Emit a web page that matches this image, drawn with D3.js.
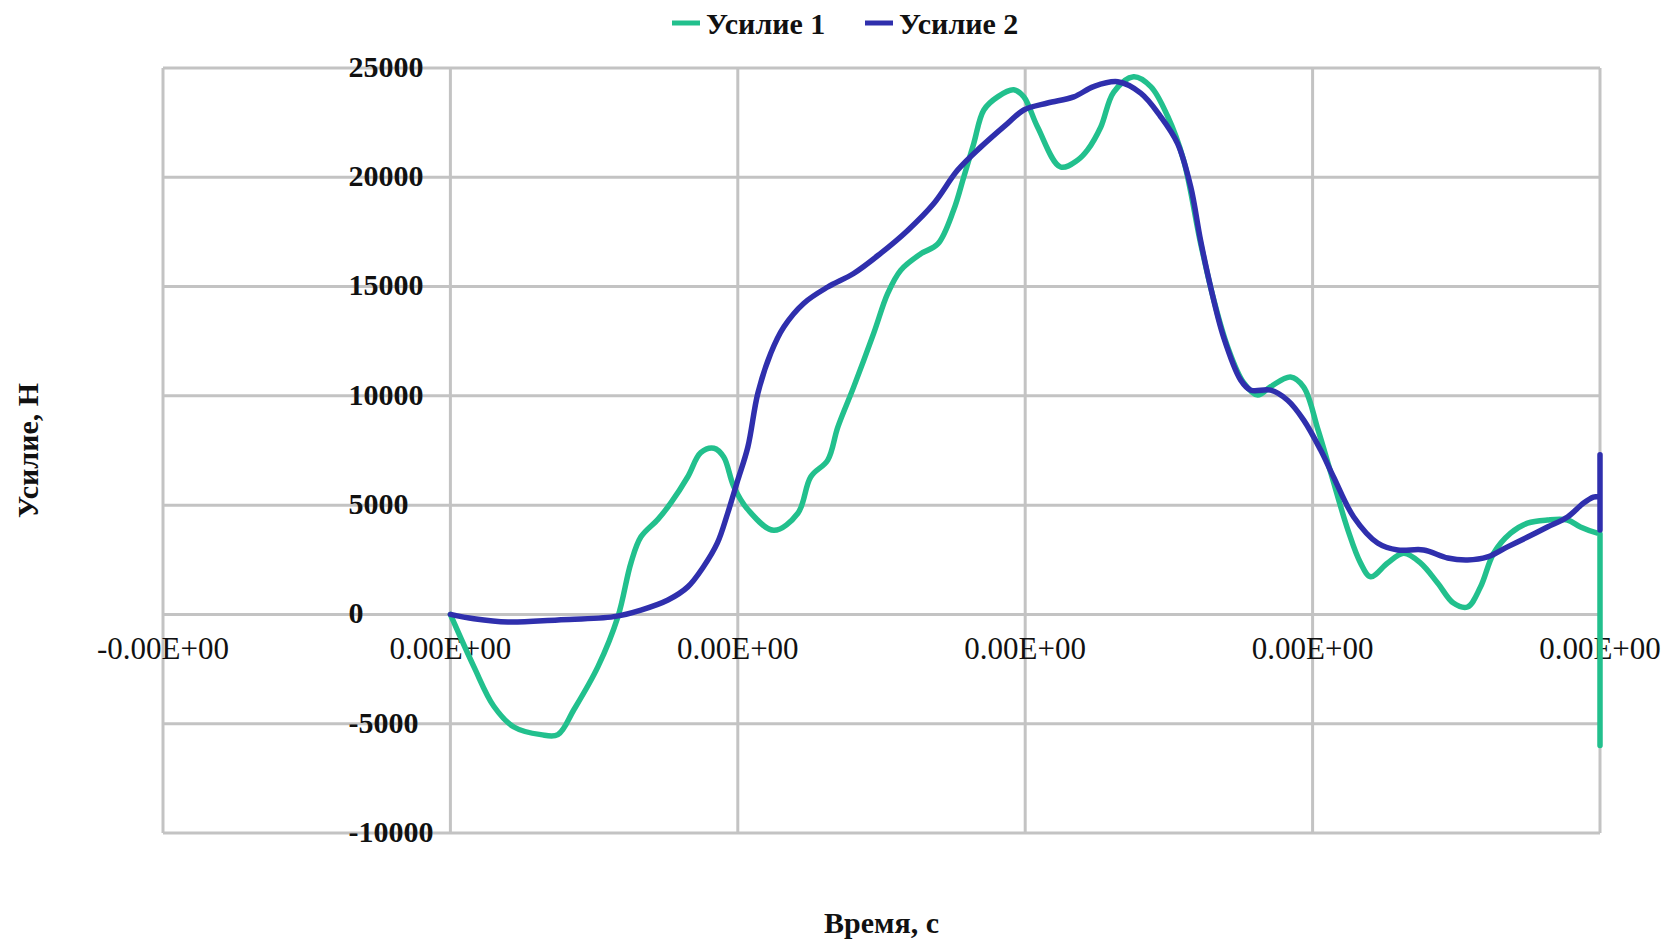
<!DOCTYPE html>
<html>
<head>
<meta charset="utf-8">
<script src="https://cdn.jsdelivr.net/npm/d3@7"></script>
<style>
  body { margin: 0; background: #fff; }
  text { font-family: "Liberation Serif", "Times New Roman", serif; }
</style>
</head>
<body>
<div class="chart"></div>
<script>
// series names
const seriesNames = ['Усилие 1', 'Усилие 2'];

// time (in gridline units) and force values
const time1 = [0, 0.082, 0.151, 0.221, 0.315, 0.374, 0.430, 0.513, 0.583, 0.628, 0.663, 0.722, 0.767, 0.826, 0.871, 0.917, 0.951, 0.986, 1.035, 1.125, 1.209, 1.254, 1.313, 1.348, 1.403, 1.473, 1.522, 1.567, 1.637, 1.696, 1.751, 1.786, 1.821, 1.856, 1.904, 1.960, 1.995, 2.043, 2.123, 2.183, 2.217, 2.263, 2.308, 2.377, 2.437, 2.496, 2.551, 2.610, 2.656, 2.704, 2.760, 2.809, 2.854, 2.923, 2.969, 3.019, 3.064, 3.123, 3.167, 3.202, 3.261, 3.317, 3.376, 3.435, 3.490, 3.539, 3.584, 3.630, 3.689, 3.748, 3.817, 3.887, 3.932, 3.991, 4.0, 4.0];
const force1 = [0, -2400, -4200, -5150, -5500, -5500, -4350, -2400, -100, 2350, 3550, 4350, 5100, 6300, 7400, 7600, 7200, 5850, 4800, 3850, 4630, 6300, 7060, 8570, 10400, 12870, 14700, 15750, 16500, 16950, 18500, 20000, 21550, 23080, 23680, 24000, 23680, 22300, 20470, 20790, 21250, 22300, 23900, 24600, 24150, 22780, 20790, 17000, 14400, 12250, 10600, 10040, 10420, 10860, 10400, 8440, 6450, 3860, 2350, 1720, 2350, 2800, 2350, 1440, 520, 340, 1250, 2800, 3720, 4180, 4320, 4320, 4000, 3720, 3700, -6000];

const time2 = [0, 0.082, 0.200, 0.374, 0.569, 0.663, 0.757, 0.826, 0.880, 0.929, 0.965, 1.000, 1.035, 1.070, 1.115, 1.160, 1.230, 1.313, 1.403, 1.497, 1.591, 1.682, 1.765, 1.845, 1.939, 1.995, 2.078, 2.169, 2.238, 2.322, 2.402, 2.471, 2.530, 2.576, 2.610, 2.645, 2.690, 2.750, 2.785, 2.854, 2.913, 2.969, 3.028, 3.073, 3.143, 3.226, 3.296, 3.386, 3.470, 3.539, 3.609, 3.678, 3.748, 3.817, 3.887, 3.943, 3.977, 4.0, 4.0, 4.0];
const force2 = [0, -200, -350, -250, -100, 200, 660, 1260, 2170, 3270, 4640, 6150, 7660, 10130, 11960, 13150, 14240, 14980, 15600, 16520, 17570, 18800, 20330, 21380, 22470, 23080, 23400, 23680, 24150, 24370, 23850, 22780, 21550, 19560, 17130, 14990, 12700, 10720, 10260, 10260, 9800, 8890, 7520, 6290, 4460, 3270, 2950, 2950, 2580, 2490, 2630, 3090, 3540, 4000, 4460, 5100, 5370, 5400, 7300, 3860];

// axis ticks
const xTicks = [-1, 0, 1, 2, 3, 4];
const xTickLabels = ['-0.00E+00', '0.00E+00', '0.00E+00', '0.00E+00', '0.00E+00', '0.00E+00'];
const yTicks = [-10000, -5000, 0, 5000, 10000, 15000, 20000, 25000];

const colors = ['#22c08d', '#2f2fad'];

const W = 1665, H = 942;
const margin = {top: 68, right: 65, bottom: 109, left: 163};
const width = W - margin.left - margin.right;
const height = H - margin.top - margin.bottom;

const svg = d3.select('.chart')
    .append('svg')
    .attr('width', W)
    .attr('height', H);

const g = svg.append('g')
    .attr('transform', 'translate(' + margin.left + ',' + margin.top + ')');

const x = d3.scaleLinear().domain([-1, 4]).range([0, width]);
const y = d3.scaleLinear().domain([-10000, 25000]).range([height, 0]);

// grid
g.append('g').selectAll('line')
    .data(yTicks)
    .enter().append('line')
    .attr('x1', 0).attr('x2', width)
    .attr('y1', d => y(d)).attr('y2', d => y(d))
    .attr('stroke', '#c3c3c3').attr('stroke-width', 3);

g.append('g').selectAll('line')
    .data(xTicks)
    .enter().append('line')
    .attr('y1', 0).attr('y2', height)
    .attr('x1', d => x(d)).attr('x2', d => x(d))
    .attr('stroke', '#c3c3c3').attr('stroke-width', 3);

// y tick labels (left aligned, like the original)
g.append('g').selectAll('text')
    .data(yTicks)
    .enter().append('text')
    .attr('x', x(0) - 102)
    .attr('y', d => y(d) + 2)
    .attr('dominant-baseline', 'middle')
    .attr('font-size', 30)
    .attr('font-weight', 'bold')
    .attr('fill', '#111')
    .text(d => d);

// x tick labels
g.append('g').selectAll('text')
    .data(xTicks)
    .enter().append('text')
    .attr('x', d => x(d))
    .attr('y', y(0) + 45)
    .attr('text-anchor', 'middle')
    .attr('font-size', 31)
    .attr('fill', '#111')
    .text((d, i) => xTickLabels[i]);

// lines: smooth part, then the straight vertical tail at the last time
const smooth = d3.line()
    .x(d => x(d[0]))
    .y(d => y(d[1]))
    .curve(d3.curveCatmullRom.alpha(0.5));
const straight = d3.line()
    .x(d => x(d[0]))
    .y(d => y(d[1]));

const series = [d3.zip(time1, force1), d3.zip(time2, force2)];

const paths = g.append('g').selectAll('g')
    .data(series)
    .enter().append('g');

paths.append('path')
    .attr('d', d => {
        const tMax = d3.max(d, p => p[0]);
        const k = d.findIndex(p => p[0] === tMax);
        return smooth(d.slice(0, k + 1)) + straight(d.slice(k)).replace('M', 'L');
    })
    .attr('fill', 'none')
    .attr('stroke', (d, i) => colors[i])
    .attr('stroke-width', 5.5)
    .attr('stroke-linejoin', 'round')
    .attr('stroke-linecap', 'round');

// legend
const legendX = [672, 865];
const legend = svg.append('g').selectAll('g')
    .data(seriesNames)
    .enter().append('g')
    .attr('transform', (d, i) => 'translate(' + legendX[i] + ',0)');
legend.append('line')
    .attr('x1', 0).attr('x2', 28)
    .attr('y1', 23).attr('y2', 23)
    .attr('stroke', (d, i) => colors[i])
    .attr('stroke-width', 5);
legend.append('text')
    .attr('x', 34)
    .attr('y', 34)
    .attr('font-size', 30)
    .attr('font-weight', 'bold')
    .attr('fill', '#111')
    .text(d => d);

// axis titles
svg.append('text')
    .attr('x', margin.left + width / 2)
    .attr('y', 933)
    .attr('text-anchor', 'middle')
    .attr('font-size', 30)
    .attr('font-weight', 'bold')
    .attr('fill', '#111')
    .text('Время, с');

svg.append('text')
    .attr('transform', 'translate(38,' + (margin.top + height / 2) + ') rotate(-90)')
    .attr('text-anchor', 'middle')
    .attr('font-size', 30)
    .attr('font-weight', 'bold')
    .attr('fill', '#111')
    .text('Усилие, Н');
</script>
</body>
</html>
